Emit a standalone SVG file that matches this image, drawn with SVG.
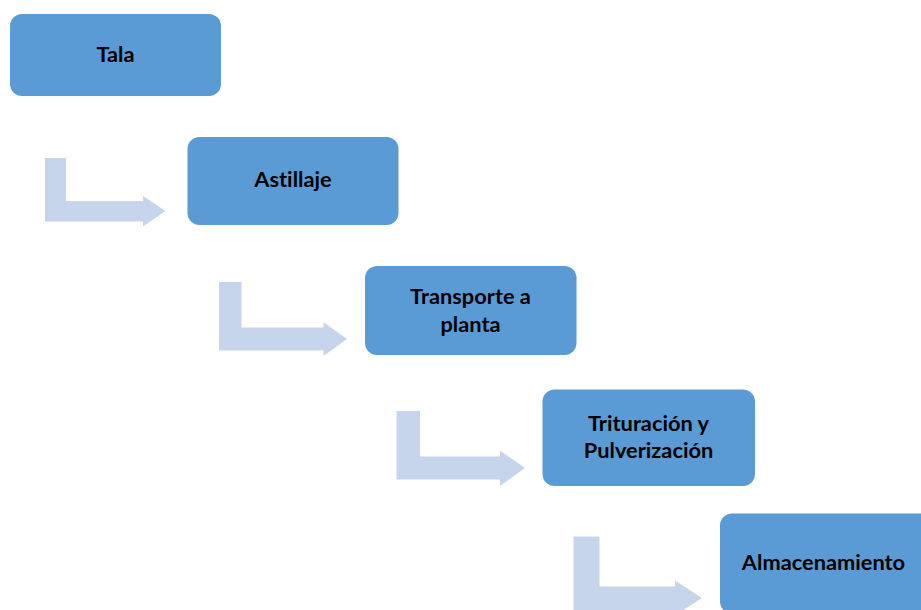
<svg xmlns="http://www.w3.org/2000/svg" width="921" height="610" viewBox="0 0 921 610">
<style>
.box{fill:#5B9BD5;}
.arr{fill:#C6D5EB;}
.lbl{font-family:"Lato","Open Sans","Liberation Sans",sans-serif;font-weight:bold;font-size:21.8px;fill:#000;text-anchor:middle;font-variant-ligatures:none;}
</style>
<rect width="921" height="610" fill="#FFFFFF"/>
<g id="connectors">
<path class="arr" d="M45,158 H66 V201 H143 V196 L165.5,211 L143,226.5 V221.5 H45 Z"/>
<path class="arr" d="M219,282 H241.5 V327.5 H323.5 V322 L347,339 L323.5,356 V350.5 H219 Z"/>
<path class="arr" d="M396.5,411 H420 V456.5 H500 V450.5 L525,468 L500,486 V479.5 H396.5 Z"/>
<path class="arr" d="M573.5,536.5 H599.5 V586.5 H675 V580.5 L702,598 L675,615.5 V610 H573.5 Z"/>
</g>
<g id="tala">
<rect class="box" x="10" y="14" width="211" height="82" rx="12"/>
<text class="lbl" x="115.5" y="62">Tala</text>
</g>
<g id="astillaje">
<rect class="box" x="187.5" y="137" width="211" height="88" rx="12"/>
<text class="lbl" x="293" y="187">Astillaje</text>
</g>
<g id="transporte">
<rect class="box" x="365" y="266" width="211.5" height="89" rx="12"/>
<text class="lbl" x="470.5" y="304">Transporte a</text>
<text class="lbl" x="470.5" y="331.5">planta</text>
</g>
<g id="trituracion">
<rect class="box" x="542.5" y="389.5" width="212.5" height="96.5" rx="12"/>
<text class="lbl" x="648.5" y="431">Trituración y</text>
<text class="lbl" x="648.5" y="457.5">Pulverización</text>
</g>
<g id="almacenamiento">
<rect class="box" x="720" y="513.5" width="212" height="100" rx="12"/>
<text class="lbl" x="823.5" y="570">Almacenamiento</text>
</g>
</svg>
